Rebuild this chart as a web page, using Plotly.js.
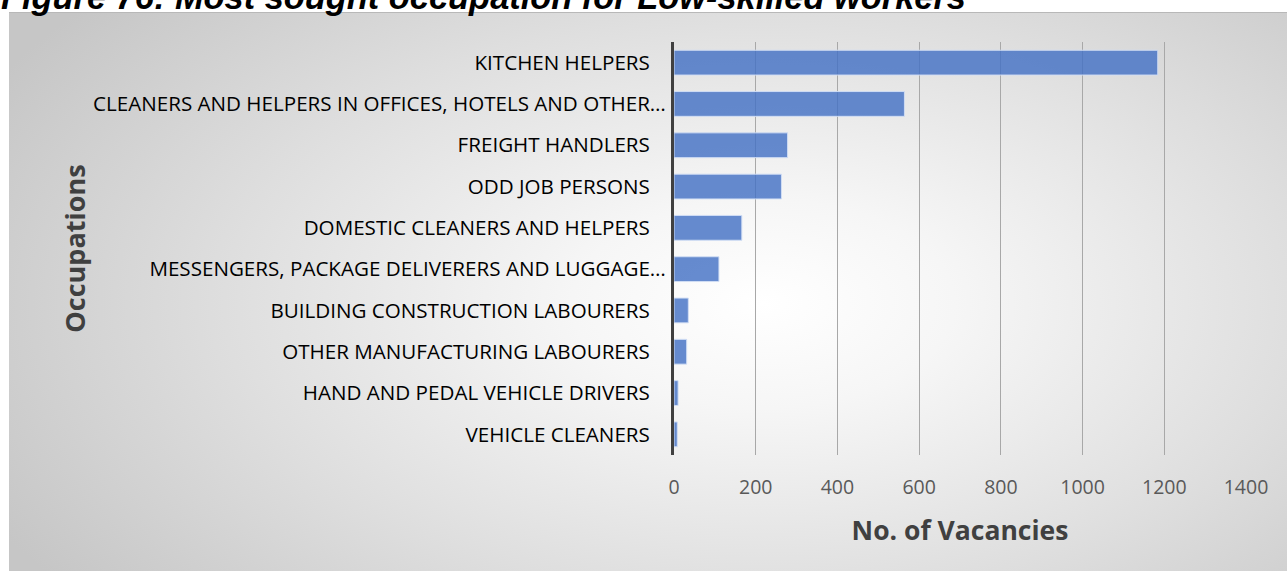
<!DOCTYPE html>
<html>
<head>
<meta charset="utf-8">
<script src="https://cdn.plot.ly/plotly-3.0.1.min.js"></script>
<style>
  html, body { margin: 0; padding: 0; background: #ffffff; }
  #wrap { position: relative; width: 1287px; height: 571px; overflow: hidden; }
  #bg { position: absolute; left: 9px; top: 12px; width: 1278px; height: 559px;
        border-top: 1px solid #b8b8b8;
        background: radial-gradient(ellipse 68% 85% at 59% 52%, #ffffff 0%, #f6f6f6 22%, #dedede 62%, #c6c6c6 100%); }
  #chart { position: absolute; left: 0; top: 0; width: 1287px; height: 571px; }
</style>
</head>
<body>
<div id="wrap">
  <div id="bg"></div>
  <div id="chart"></div>
</div>
<script>
const categories = [
  "KITCHEN HELPERS",
  "CLEANERS AND HELPERS IN OFFICES, HOTELS AND OTHER…",
  "FREIGHT HANDLERS",
  "ODD JOB PERSONS",
  "DOMESTIC CLEANERS AND HELPERS",
  "MESSENGERS, PACKAGE DELIVERERS AND LUGGAGE…",
  "BUILDING CONSTRUCTION LABOURERS",
  "OTHER MANUFACTURING LABOURERS",
  "HAND AND PEDAL VEHICLE DRIVERS",
  "VEHICLE CLEANERS"
];
const vacancies = [1184, 564, 278, 263, 166, 110, 35, 31, 10, 8];
const xTicks = [0, 200, 400, 600, 800, 1000, 1200, 1400];
const chartTitle = "Figure 76: Most sought occupation for Low-skilled workers";

const tickText = categories.map(c => c.endsWith("…") ? c : c + "\u00a0\u00a0\u00a0");

const trace = {
  type: "bar",
  orientation: "h",
  y: categories,
  x: vacancies,
  marker: { color: "rgba(68,114,196,0.82)", line: { color: "rgba(210,222,244,0.95)", width: 1 } },
  hoverinfo: "x+y"
};

const layout = {
  width: 1287, height: 571,
  margin: { l: 674, r: 41, t: 42, b: 116, pad: 0 },
  paper_bgcolor: "rgba(0,0,0,0)",
  plot_bgcolor: "rgba(0,0,0,0)",
  bargap: 0.4,
  showlegend: false,
  annotations: [{
    text: chartTitle,
    font: { family: "Liberation Sans, Arial, sans-serif", size: 34.4, weight: "bold", style: "italic", color: "#000000" },
    xref: "paper", x: -674 / 572, xanchor: "left",
    yref: "paper", y: 1 + 45 / 413, yanchor: "middle",
    showarrow: false, borderpad: 0
  }],
  xaxis: {
    range: [0, 1400],
    tickvals: xTicks,
    ticktext: xTicks.map(String),
    showgrid: true, gridcolor: "#a8a8a8", gridwidth: 1.3,
    zeroline: false, showline: false, ticks: "",
    ticklabelstandoff: 18,
    tickfont: { family: "Open Sans, sans-serif", size: 19.5, color: "#595959" },
    title: { text: "No. of Vacancies", standoff: 22,
      font: { family: "Open Sans, sans-serif", size: 26.5, weight: "bold", color: "#404040" } },
    automargin: false, fixedrange: true
  },
  yaxis: {
    type: "category",
    autorange: "reversed",
    tickvals: categories,
    ticktext: tickText,
    showgrid: false, zeroline: false,
    showline: true, linecolor: "#404040", linewidth: 3,
    ticks: "",
    ticklabelstandoff: 1,
    tickfont: { family: "Open Sans, sans-serif", size: 20.6, color: "#000000" },
    title: { text: "Occupations", standoff: 0,
      font: { family: "Open Sans, sans-serif", size: 27, weight: "bold", color: "#404040" } },
    automargin: false, fixedrange: true
  }
};

Plotly.newPlot("chart", [trace], layout, { displayModeBar: false, staticPlot: false });
</script>
</body>
</html>
